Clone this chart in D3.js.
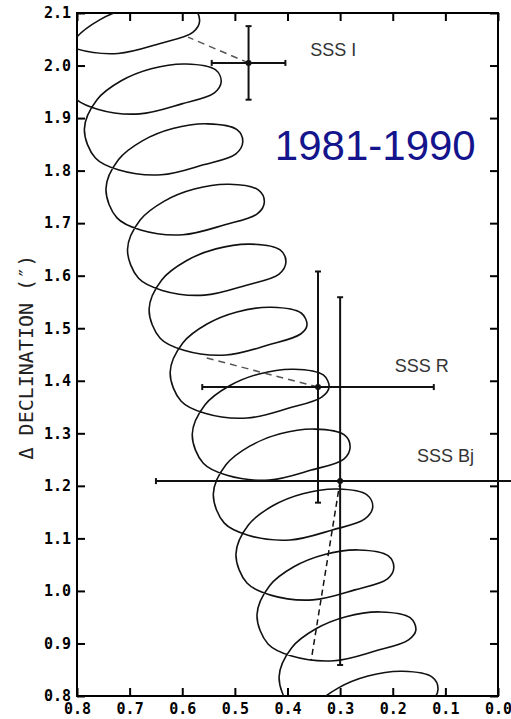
<!DOCTYPE html>
<html>
<head>
<meta charset="utf-8">
<script src="https://cdn.jsdelivr.net/npm/d3@7"></script>
<style>
  body { margin: 0; background: #fff; }
</style>
</head>
<body>
<div id="chart"></div>
<script>
// apparent path of the star, one row per yearly loop (starting at the loop's right-most point)
const track = [
  [[0.608,2.200],[0.619,2.223],[0.675,2.234],[0.741,2.225],[0.798,2.202],[0.844,2.166],[0.868,2.110],[0.847,2.055],[0.802,2.032],[0.722,2.023],[0.642,2.042],[0.580,2.063]],
  [[0.567,2.085],[0.578,2.108],[0.634,2.119],[0.700,2.110],[0.757,2.087],[0.803,2.051],[0.827,1.995],[0.806,1.940],[0.761,1.917],[0.681,1.908],[0.601,1.927],[0.539,1.948]],
  [[0.526,1.969],[0.537,1.992],[0.593,2.003],[0.659,1.994],[0.716,1.971],[0.762,1.935],[0.786,1.879],[0.765,1.824],[0.720,1.801],[0.640,1.792],[0.560,1.811],[0.498,1.832]],
  [[0.485,1.855],[0.496,1.878],[0.552,1.889],[0.618,1.880],[0.675,1.857],[0.721,1.821],[0.745,1.765],[0.724,1.710],[0.679,1.687],[0.599,1.678],[0.519,1.697],[0.457,1.718]],
  [[0.444,1.740],[0.455,1.763],[0.511,1.774],[0.577,1.765],[0.634,1.742],[0.680,1.706],[0.704,1.650],[0.683,1.595],[0.638,1.572],[0.558,1.563],[0.478,1.582],[0.416,1.603]],
  [[0.403,1.626],[0.414,1.649],[0.470,1.660],[0.536,1.651],[0.593,1.628],[0.639,1.592],[0.663,1.536],[0.642,1.481],[0.597,1.458],[0.517,1.449],[0.437,1.468],[0.375,1.489]],
  [[0.363,1.506],[0.374,1.529],[0.430,1.540],[0.496,1.531],[0.553,1.508],[0.599,1.472],[0.623,1.416],[0.602,1.361],[0.557,1.338],[0.477,1.329],[0.397,1.348],[0.335,1.369]],
  [[0.321,1.388],[0.332,1.411],[0.388,1.422],[0.454,1.413],[0.511,1.390],[0.557,1.354],[0.581,1.298],[0.560,1.243],[0.515,1.220],[0.435,1.211],[0.355,1.230],[0.293,1.251]],
  [[0.281,1.274],[0.292,1.297],[0.348,1.308],[0.414,1.299],[0.471,1.276],[0.517,1.240],[0.541,1.184],[0.520,1.129],[0.475,1.106],[0.395,1.097],[0.315,1.116],[0.253,1.137]],
  [[0.238,1.160],[0.249,1.183],[0.305,1.194],[0.371,1.185],[0.428,1.162],[0.474,1.126],[0.498,1.070],[0.477,1.015],[0.432,0.992],[0.352,0.983],[0.272,1.002],[0.210,1.023]],
  [[0.198,1.044],[0.209,1.067],[0.265,1.078],[0.331,1.069],[0.388,1.046],[0.434,1.010],[0.458,0.954],[0.437,0.899],[0.392,0.876],[0.312,0.867],[0.232,0.886],[0.170,0.907]],
  [[0.156,0.926],[0.167,0.949],[0.223,0.960],[0.289,0.951],[0.346,0.928],[0.392,0.892],[0.416,0.836],[0.395,0.781],[0.350,0.758],[0.270,0.749],[0.190,0.768],[0.128,0.789]],
  [[0.114,0.813],[0.125,0.836],[0.181,0.847],[0.247,0.838],[0.304,0.815],[0.350,0.779],[0.374,0.723],[0.353,0.668]]
];

// SSS plate positions with their errors
const obsName = ["SSS I", "SSS R", "SSS Bj"];
const obsX = [0.474, 0.342, 0.300];
const obsY = [2.005, 1.388, 1.209];
const obsErr = [0.07, 0.22, 0.35];
// where each dashed line meets the track
const linkX = [0.589, 0.560, 0.355];
const linkY = [2.054, 1.445, 0.868];
const labelX = [0.357, 0.196, 0.154];
const labelY = [2.018, 1.417, 1.245];

const xTicks = [0.8, 0.7, 0.6, 0.5, 0.4, 0.3, 0.2, 0.1, 0.0];
const yTicks = [0.8, 0.9, 1.0, 1.1, 1.2, 1.3, 1.4, 1.5, 1.6, 1.7, 1.8, 1.9, 2.0, 2.1];
const period = "1981-1990";

const W = 511, H = 719;
const margin = {top: 13, right: 13, bottom: 23, left: 77};
const width = W - margin.left - margin.right;
const height = H - margin.top - margin.bottom;

const svg = d3.select("#chart").append("svg")
    .attr("width", W)
    .attr("height", H);

const g = svg.append("g")
    .attr("transform", `translate(${margin.left},${margin.top})`);

const x = d3.scaleLinear().domain([0.8, 0.0]).range([0, width]);
const y = d3.scaleLinear().domain([0.8, 2.1]).range([height, 0]);

g.append("defs").append("clipPath")
    .attr("id", "plotclip")
    .append("rect")
    .attr("width", width)
    .attr("height", height);

// axes, ticks pointing inwards
const fmt = d3.format(".1f");
const axisStyle = sel => {
    sel.select(".domain").remove();
    sel.selectAll(".tick line").attr("stroke", "#000").attr("stroke-width", 2);
    sel.selectAll(".tick text")
        .attr("font-family", "DejaVu Sans Mono")
        .attr("font-weight", "bold")
        .attr("font-size", 15)
        .attr("fill", "#000");
};

g.append("g")
    .call(d3.axisLeft(y).tickValues(yTicks).tickFormat(fmt).tickSize(-8).tickSizeOuter(0).tickPadding(6))
    .call(axisStyle);

g.append("g")
    .attr("transform", `translate(0,${height})`)
    .call(d3.axisBottom(x).tickValues(xTicks).tickFormat(fmt).tickSize(-8).tickSizeOuter(0).tickPadding(7))
    .call(axisStyle);

g.append("g")
    .call(d3.axisTop(x).tickValues(xTicks).tickFormat("").tickSize(-8).tickSizeOuter(0))
    .call(axisStyle);

g.append("g")
    .attr("transform", `translate(${width},0)`)
    .call(d3.axisRight(y).tickValues(yTicks).tickFormat("").tickSize(-8).tickSizeOuter(0))
    .call(axisStyle);

g.append("rect")
    .attr("width", width)
    .attr("height", height)
    .attr("fill", "none")
    .attr("stroke", "#000")
    .attr("stroke-width", 2);

// the looping track
const line = d3.line()
    .x(d => x(d[0]))
    .y(d => y(d[1]))
    .curve(d3.curveCatmullRom.alpha(0.5));

g.append("path")
    .attr("clip-path", "url(#plotclip)")
    .attr("d", line(track.flat()))
    .attr("fill", "none")
    .attr("stroke", "#111")
    .attr("stroke-width", 1.6);

// dashed links from each plate position to the track
const dashes = ["7,5", "7,5", "6,4"];
const dashColor = ["#555", "#555", "#111"];
obsX.forEach((ox, i) => {
    g.append("line")
        .attr("x1", x(ox)).attr("y1", y(obsY[i]))
        .attr("x2", x(linkX[i])).attr("y2", y(linkY[i]))
        .attr("stroke", dashColor[i])
        .attr("stroke-width", 1.5)
        .attr("stroke-dasharray", dashes[i]);
});

// error crosses
const cap = 3;
obsX.forEach((ox, i) => {
    const e = obsErr[i];
    const cx = x(ox), cy = y(obsY[i]);
    const bar = g.append("g").attr("stroke", "#111").attr("stroke-width", 2);
    bar.append("line").attr("x1", x(ox + e)).attr("x2", x(ox - e)).attr("y1", cy).attr("y2", cy);
    bar.append("line").attr("x1", cx).attr("x2", cx).attr("y1", y(obsY[i] + e)).attr("y2", y(obsY[i] - e));
    bar.append("line").attr("x1", x(ox + e)).attr("x2", x(ox + e)).attr("y1", cy - cap).attr("y2", cy + cap);
    bar.append("line").attr("x1", x(ox - e)).attr("x2", x(ox - e)).attr("y1", cy - cap).attr("y2", cy + cap);
    bar.append("line").attr("x1", cx - cap).attr("x2", cx + cap).attr("y1", y(obsY[i] + e)).attr("y2", y(obsY[i] + e));
    bar.append("line").attr("x1", cx - cap).attr("x2", cx + cap).attr("y1", y(obsY[i] - e)).attr("y2", y(obsY[i] - e));
    g.append("circle").attr("cx", cx).attr("cy", cy).attr("r", 3).attr("fill", "#111");
});

g.selectAll(".obslabel")
    .data(obsName)
    .enter()
    .append("text")
    .attr("class", "obslabel")
    .attr("x", (d, i) => x(labelX[i]))
    .attr("y", (d, i) => y(labelY[i]))
    .attr("font-family", "Liberation Sans, Arial, sans-serif")
    .attr("font-size", 18)
    .attr("fill", "#333")
    .text(d => d);

g.append("text")
    .attr("x", x(0.424))
    .attr("y", y(1.820))
    .attr("font-family", "Liberation Sans, Arial, sans-serif")
    .attr("font-size", 42)
    .attr("fill", "#14148c")
    .text(period);

svg.append("text")
    .attr("transform", `translate(33,${margin.top + y(1.445)}) rotate(-90)`)
    .attr("text-anchor", "middle")
    .attr("font-family", "DejaVu Sans Mono")
    .attr("font-size", 20)
    .attr("fill", "#222")
    .text("\u0394 DECLINATION (\u2033)");
</script>
</body>
</html>
